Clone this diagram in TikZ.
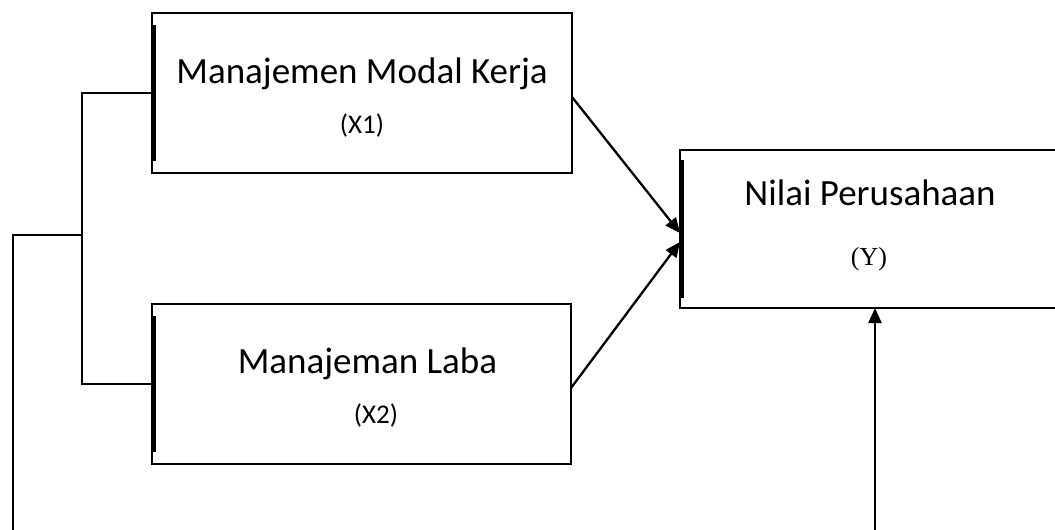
\documentclass[tikz,border=0pt]{standalone}
\usepackage{fontspec}
\setmainfont{Carlito}
\newfontfamily\serifY{Liberation Serif}
\usetikzlibrary{arrows.meta,calc}
\tikzset{
  box/.style={draw=black, line width=2.6pt, inner sep=0pt, outer sep=0pt, fill=white},
  thickedge/.style={line width=3pt},
  conn/.style={line width=2.3pt},
  arr/.style={conn, -{Triangle[length=15pt,width=13pt]}},
  big/.style={font=\fontsize{37}{40}\selectfont, anchor=base, inner sep=0pt},
  small/.style={font=\fontsize{27}{30}\selectfont, anchor=base, inner sep=0pt},
}
\begin{document}
\begin{tikzpicture}[x=1pt,y=-1pt]
\useasboundingbox (0,0) rectangle (1055,530);
\clip (0,0) rectangle (1055,530);
\fill[white] (0,0) rectangle (1055,530);
% boxes
\node[box, minimum width=420pt, minimum height=160pt] (b1) at (362,93) {};
\node[box, minimum width=419pt, minimum height=160pt] (b2) at (361.5,384) {};
\node[box, minimum width=390pt, minimum height=158pt] (b3) at (875,229) {};
\draw[thickedge] ([xshift=2pt,yshift=-12pt]b1.north west) -- ([xshift=2pt,yshift=12pt]b1.south west);
\draw[thickedge] ([xshift=2pt,yshift=-12pt]b2.north west) -- ([xshift=2pt,yshift=12pt]b2.south west);
\draw[thickedge] ([xshift=2pt,yshift=-10pt]b3.north west) -- ([xshift=2pt,yshift=10pt]b3.south west);
% labels
\node[big] (t1) at (362,83) {Manajemen Modal Kerja};
\node[small] (t1b) at (362,133) {(X1)};
\node[big] (t2) at (367.5,373) {Manajeman Laba};
\node[small] (t2b) at (376,423) {(X2)};
\node[big] (t3) at (870,205) {Nilai Perusahaan};
\node[small, font=\serifY\fontsize{26}{30}\selectfont] (t3b) at (869,265) {(Y)};
% connectors
\coordinate (br) at (82,235);
\coordinate (lb) at (13,532);
\coordinate (bb) at (875,532);
\draw[conn] (b1.west) -| (br) |- (b2.west);
\draw[conn] (br) -| (lb);
\draw[arr] ([yshift=-4pt]b1.east) -- ([yshift=-4pt]b3.west);
\draw[arr] ([yshift=-4pt]b2.east) -- ([yshift=-13pt]b3.west);
\draw[arr] (bb) -- (bb |- b3.south);
\end{tikzpicture}
\end{document}
